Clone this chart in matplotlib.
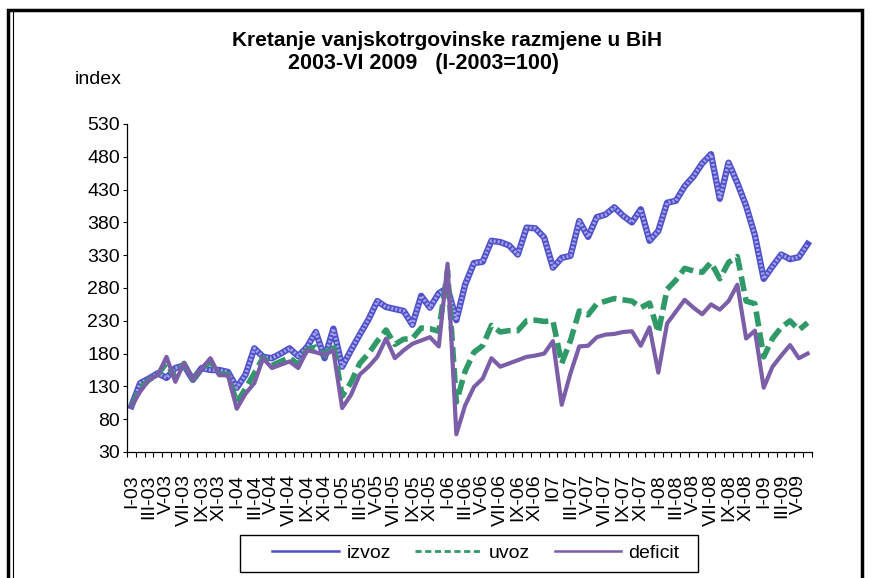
import numpy as np
import matplotlib.pyplot as plt
from matplotlib.lines import Line2D
from matplotlib.patches import Rectangle

plt.rcParams['font.family'] = ['Liberation Sans', 'DejaVu Sans']

# monthly index values I-2003 .. VI-2009 (I-2003 = 100)
izvoz = [100, 135, 142, 150, 143, 158, 162, 140, 158, 155,
         155, 152, 128, 148, 188, 175, 173, 180, 188, 176,
         190, 213, 173, 218, 160, 185, 209, 232, 260, 251,
         248, 245, 224, 268, 250, 272, 280, 231, 285, 318,
         320, 352, 350, 345, 331, 372, 371, 357, 311, 326,
         329, 382, 358, 388, 392, 403, 390, 380, 400, 352,
         367, 410, 413, 435, 450, 470, 484, 416, 471, 440,
         405, 360, 294, 313, 331, 324, 327, 347]

uvoz = [100, 127, 140, 148, 166, 143, 165, 140, 157, 168,
        149, 148, 105, 127, 150, 174, 162, 168, 174, 163,
        186, 190, 177, 194, 115, 136, 165, 180, 199, 216,
        194, 202, 203, 219, 218, 214, 307, 106, 153, 182,
        192, 223, 213, 215, 215, 230, 231, 229, 230, 165,
        200, 245, 239, 256, 260, 264, 262, 260, 250, 257,
        212, 278, 292, 310, 306, 304, 319, 294, 319, 328,
        260, 256, 175, 203, 220, 230, 216, 227]

deficit = [100, 122, 140, 147, 175, 137, 166, 140, 157, 173,
           147, 147, 96, 119, 135, 173, 158, 163, 168, 158,
           185, 182, 178, 185, 97, 117, 148, 160, 175, 203,
           173, 185, 195, 200, 205, 191, 317, 57, 101, 129,
           142, 173, 160, 165, 170, 175, 177, 180, 199, 102,
           150, 191, 192, 205, 209, 210, 213, 214, 192, 220,
           151, 226, 244, 262, 250, 240, 255, 247, 260, 285,
           203, 215, 128, 160, 177, 193, 173, 180]

tick_labels = ["I-03", "III-03", "V-03", "VII-03", "IX-03", "XI-03",
               "I-04", "III-04", "V-04", "VII-04", "IX-04", "XI-04",
               "I-05", "III-05", "V-05", "VII-05", "IX-05", "XI-05",
               "I-06", "III-06", "V-06", "VII-06", "IX-06", "XI-06",
               "I07", "III-07", "V-07", "VII-07", "IX-07", "XI-07",
               "I-08", "III-08", "V-08", "VII-08", "IX-08", "XI-08",
               "I-09", "III-09", "V-09"]

W, H = 871, 578
fig = plt.figure(figsize=(W / 100, H / 100), dpi=100)
ax = fig.add_axes([127 / W, 1 - 452 / H, (812 - 127) / W, (452 - 124) / H])

x = np.arange(len(izvoz))
blue = '#5050c8'
green = '#2f9a68'
purple = '#7b5ea7'

# izvoz: thick line with a fine light hatch on top
ax.plot(x, izvoz, color=blue, lw=4.6, solid_joinstyle='round', zorder=2)
ax.plot(x, izvoz, color='#a4a4ec', lw=2.4, ls=(0, (0.6, 0.6)), zorder=2.1)
ax.plot(x, uvoz, color=green, lw=4.0, dashes=(2.7, 1.1), zorder=3)
ax.plot(x, deficit, color=purple, lw=3.0, solid_joinstyle='round', zorder=4)

ax.set_xlim(-0.5, len(x) - 0.5)
ax.set_ylim(30, 530)
ax.set_yticks(np.arange(30, 531, 50))
ax.set_xticks(np.arange(0, len(x), 2))
ax.set_xticklabels(tick_labels, rotation=90)
ax.set_xticks(np.arange(-0.5, len(x), 1), minor=True)
ax.tick_params(axis='x', which='major', length=0, pad=16, labelsize=14)
ax.tick_params(axis='x', which='minor', length=3.8, width=0.8, direction='out')
ax.tick_params(axis='y', length=3, width=0.8, pad=2, labelsize=14)
for s in ['top', 'right']:
    ax.spines[s].set_visible(False)
for s in ['left', 'bottom']:
    ax.spines[s].set_linewidth(0.9)

fig.text(447 / W, 1 - 40 / H, "Kretanje vanjskotrgovinske razmjene u BiH",
         ha='center', va='center', fontsize=15, fontweight='bold')
fig.text(423 / W, 1 - 63 / H, "2003-VI 2009   (I-2003=100)",
         ha='center', va='center', fontsize=15.5, fontweight='bold')
fig.text(75 / W, 1 - 80 / H, "index", ha='left', va='center', fontsize=14)

handles = [Line2D([], [], color=blue, lw=1.8),
           Line2D([], [], color=green, lw=2.0, dashes=(2.2, 1.3)),
           Line2D([], [], color=purple, lw=1.8)]
leg = fig.legend(handles, ["izvoz", "uvoz", "deficit"], ncol=3,
                 loc='center', bbox_to_anchor=(476 / W, 1 - 553 / H),
                 fontsize=14, frameon=False, handlelength=3.4,
                 handletextpad=0.4, columnspacing=1.25, borderpad=0,
                 borderaxespad=0)

# legend frame drawn separately (contents sit right of centre in the box)
fig.patches.append(Rectangle((240 / W, 1 - 572 / H), (698 - 240) / W,
                             (572 - 535) / H, transform=fig.transFigure,
                             fill=False, edgecolor='black', lw=1.0))

# outer frame
fig.patches.append(Rectangle((8 / W, -0.1), (862 - 8) / W, 1.1 - 10 / H,
                             transform=fig.transFigure, fill=False,
                             edgecolor='black', lw=2.5))
fig.add_artist(Line2D([13 / W, 13 / W], [0, 1 - 12 / H], color='black',
                      lw=0.8, transform=fig.transFigure))

fig.savefig('out.png', dpi=100)
